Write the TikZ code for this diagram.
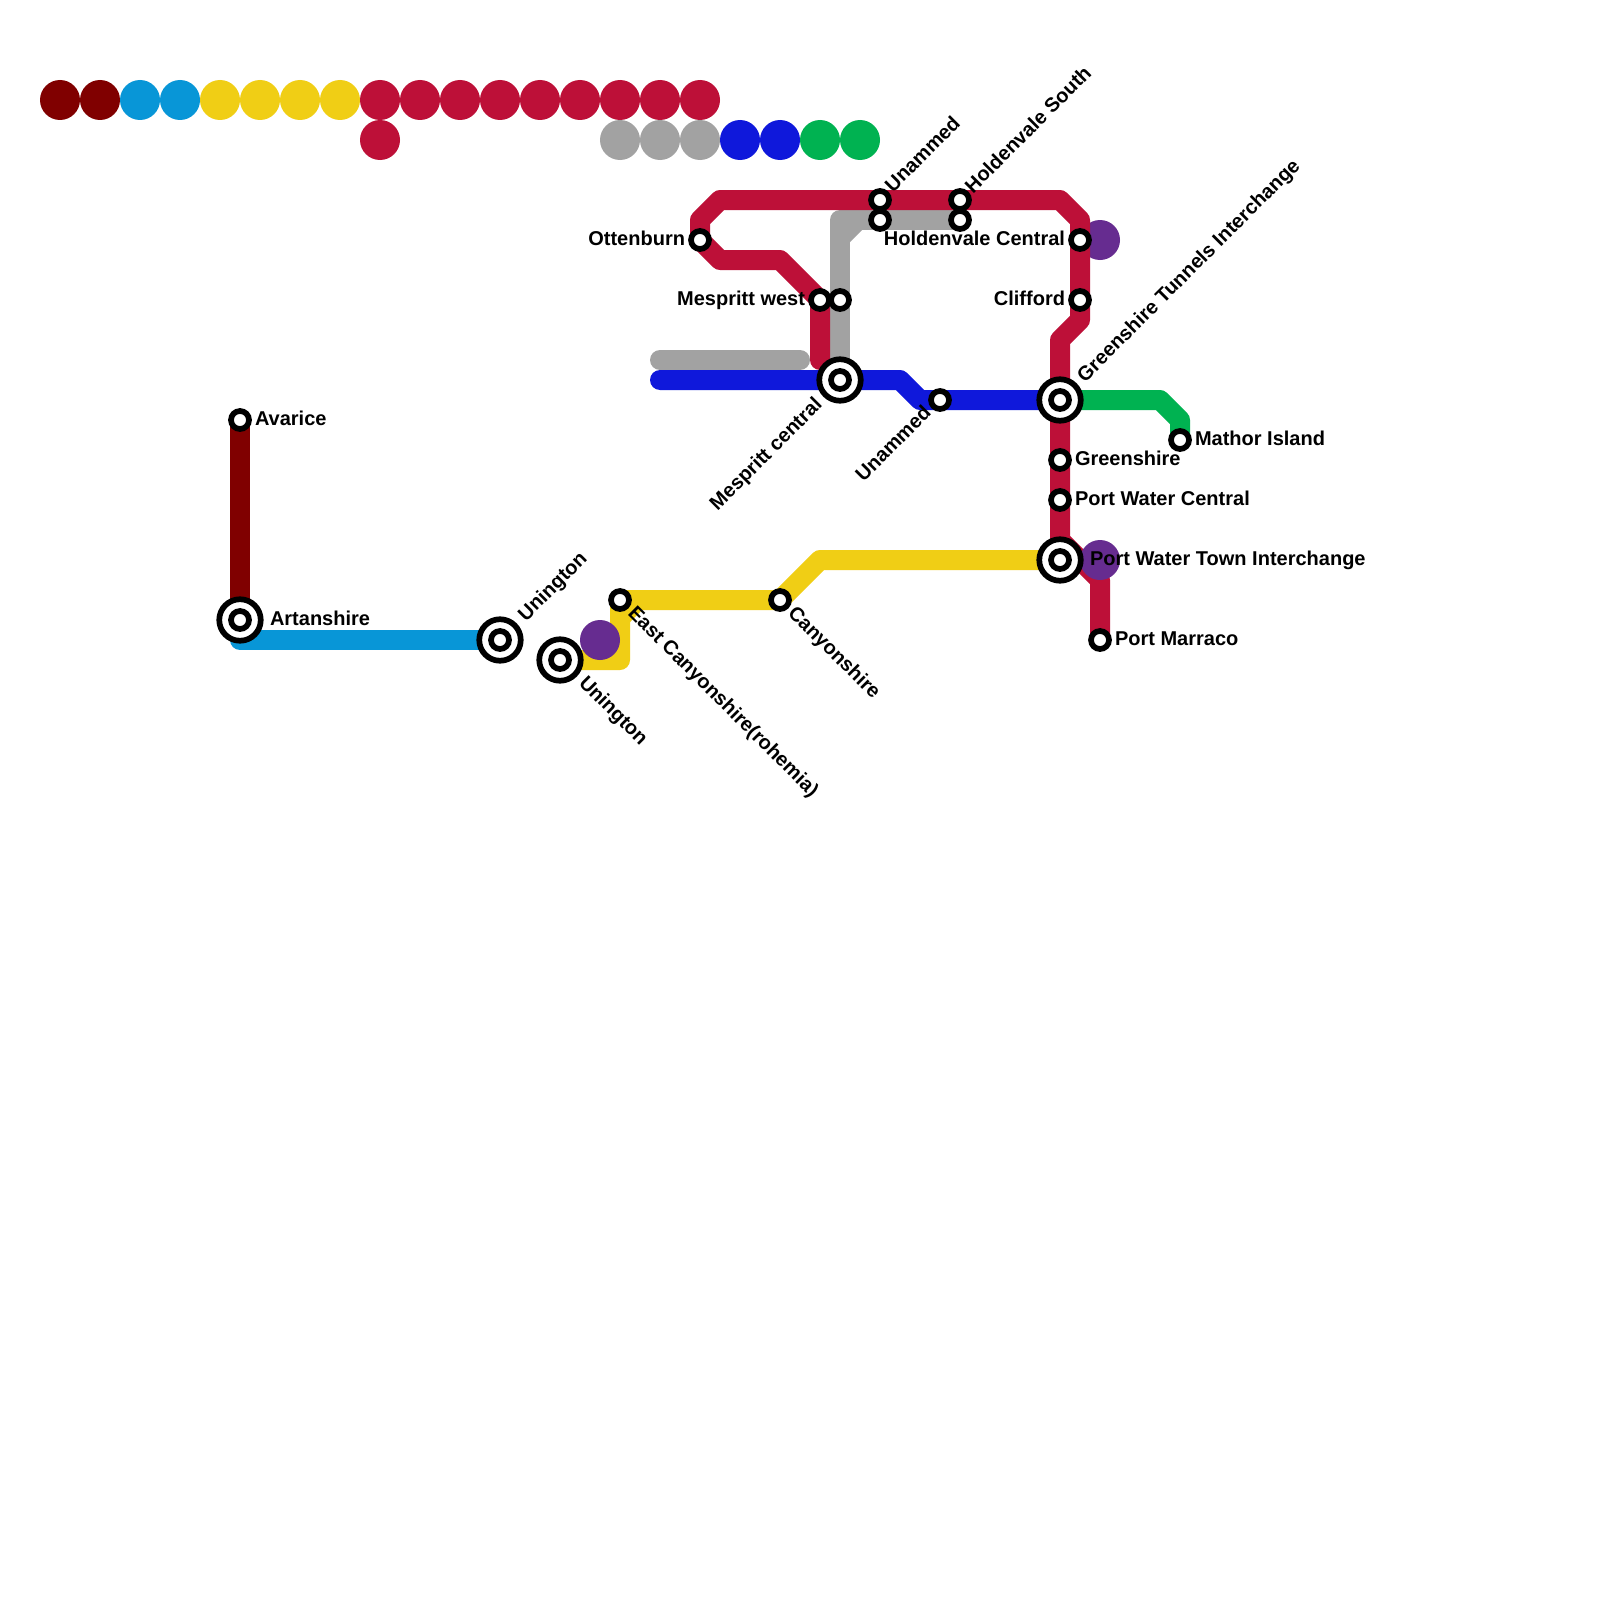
\documentclass[tikz,border=0pt]{standalone}
\usepackage{fontspec}
\setmainfont{Liberation Sans}
\definecolor{cDark}{HTML}{800000}
\definecolor{cSky}{HTML}{0896D7}
\definecolor{cYellow}{HTML}{F0CE15}
\definecolor{cRed}{HTML}{BD1038}
\definecolor{cGray}{HTML}{A2A2A2}
\definecolor{cBlue}{HTML}{0F18DB}
\definecolor{cGreen}{HTML}{00B251}
\definecolor{cPurple}{HTML}{662C90}
\pgfdeclarelayer{lines}
\pgfsetlayers{lines,main}
\tikzset{
  metro/.style={line width=20pt,line cap=round,line join=round},
  dot/.style={circle,minimum size=40pt,inner sep=0pt,outer sep=0pt},
  stn/.style={circle,draw=black,fill=white,line width=5.7pt,minimum size=18pt,inner sep=0pt,outer sep=0pt},
  ixn/.style={circle,draw=black,fill=white,line width=5.7pt,minimum size=41.5pt,inner sep=0pt,outer sep=0pt},
  lbl/.style={font=\fontsize{20}{22}\selectfont\bfseries,text=black,inner sep=0pt,outer sep=0pt},
  lw/.style={lbl,anchor=base west},
  le/.style={lbl,anchor=base east},
}
\begin{document}
\begin{tikzpicture}[x=1pt,y=-1pt]
\useasboundingbox (0,0) rectangle (1600,1600);
% legend dots
\foreach \n/\x/\c in {a1/60/cDark,a2/100/cDark,a3/140/cSky,a4/180/cSky,a5/220/cYellow,a6/260/cYellow,a7/300/cYellow,a8/340/cYellow,a9/380/cRed,a10/420/cRed,a11/460/cRed,a12/500/cRed,a13/540/cRed,a14/580/cRed,a15/620/cRed,a16/660/cRed,a17/700/cRed}
  \node[dot,fill=\c] (\n) at (\x,100) {};
\foreach \n/\x/\c in {b1/380/cRed,b2/620/cGray,b3/660/cGray,b4/700/cGray,b5/740/cBlue,b6/780/cBlue,b7/820/cGreen,b8/860/cGreen}
  \node[dot,fill=\c] (\n) at (\x,140) {};
% stations
\node[stn] (avarice) at (240,420) {};
\node[stn] (mathor) at (1180,440) {};
\node[stn] (ottenburn) at (700,240) {};
\node[stn] (mespwest) at (820,300) {};
\node[stn] (mespeast) at (840,300) {};
\node[stn] (unam1) at (880,200) {};
\node[stn] (unam2) at (880,220) {};
\node[stn] (holdS) at (960,200) {};
\node[stn] (holdS2) at (960,220) {};
\node[stn] (holdC) at (1080,240) {};
\node[stn] (clifford) at (1080,300) {};
\node[stn] (unam3) at (940,400) {};
\node[stn] (greenshire) at (1060,460) {};
\node[stn] (pwc) at (1060,500) {};
\node[stn] (eastcan) at (620,600) {};
\node[stn] (canyon) at (780,600) {};
\node[stn] (marraco) at (1100,640) {};
\foreach \n/\p in {artan/{240,620},uni1/{500,640},uni2/{560,660},mespc/{840,380},gti/{1060,400},pwt/{1060,560}}{
  \node[ixn] (\n) at (\p) {};
  \node[stn] (\n i) at (\p) {};
}
% waypoints
\coordinate (r0) at (820,360);
\coordinate (r1) at (780,260);
\coordinate (r2) at (720,260);
\coordinate (r3) at (700,220);
\coordinate (r4) at (720,200);
\coordinate (r5) at (1060,200);
\coordinate (r6) at (1080,220);
\coordinate (r7) at (1080,320);
\coordinate (r8) at (1060,340);
\coordinate (r9) at (1060,540);
\coordinate (r10) at (1100,580);
\coordinate (g1) at (840,220);
\coordinate (g2) at (660,360);
\coordinate (g3) at (800,360);
\coordinate (bl0) at (660,380);
\coordinate (bl1) at (900,380);
\coordinate (bl2) at (920,400);
\coordinate (gr1) at (1160,400);
\coordinate (gr2) at (1180,420);
\coordinate (s1) at (240,640);
\coordinate (y1) at (620,660);
\coordinate (y2) at (620,600);
\coordinate (y3) at (820,560);
\begin{pgfonlayer}{lines}
\fill[white] (0,0) rectangle (1600,1600);
\node[dot,fill=cPurple] (pur1) at (1100,240) {};
\draw[metro,cGray] (mespc.center) -- (g1) -- (holdS2.center);
\fill[cGray] (850,242) -- (850,230) -- (862,230) -- cycle;
\draw[metro,cGray] (g2) -- (g3);
\draw[metro,cRed] (r0) -- (mespwest.center) -- (r1) -- (r2) -- (ottenburn.center) -- (r3) -- (r4) -- (r5) -- (r6) -- (r7) -- (r8) -- (r9) -- (r10) -- (marraco.center);
\draw[metro,cBlue] (bl0) -- (bl1) -- (bl2) -- (gti.center);
\draw[metro,cGreen] (gti.center) -- (gr1) -- (gr2) -- (mathor.center);
\draw[metro,cDark] (avarice.center) -- (artan.center);
\draw[metro,cSky] (artan.center) -- (s1) -- (uni1.center);
\draw[metro,cYellow] (uni2.center) -- (y1) -- (y2) -- (canyon.center) -- (y3) -- (pwt.center);
\fill[cYellow] (630,622) -- (630,610) -- (642,610) -- cycle;
\node[dot,fill=cPurple] (pur2) at (600,640) {};
\node[dot,fill=cPurple] (pur3) at (1100,560) {};
\end{pgfonlayer}
% labels
\node[lw] (t1) at (255,425) {Avarice};
\node[lw] (t2) at (270,625) {Artanshire};
\node[lw] (t3) at (1090,565) {Port Water Town Interchange};
\node[lw] (t4) at (1075,465) {Greenshire};
\node[lw] (t5) at (1075,505) {Port Water Central};
\node[lw] (t6) at (1115,645) {Port Marraco};
\node[lw] (t7) at (1195,445) {Mathor Island};
\node[le] (t8) at (685,245) {Ottenburn};
\node[le] (t9) at (805,305) {Mespritt west};
\node[le] (t10) at (1065,245) {Holdenvale Central};
\node[le] (t11) at (1065,305) {Clifford};
\node[lw,rotate=45] (t12) at (1085,383) {Greenshire Tunnels Interchange};
\node[lw,rotate=45] (t13) at (893,193) {Unammed};
\node[lw,rotate=45] (t14) at (973,194) {Holdenvale South};
\node[lw,rotate=45] (t15) at (526,622) {Unington};
\node[lw,rotate=-45] (t16) at (627,614) {East Canyonshire(rohemia)};
\node[lw,rotate=-45] (t17) at (787,614) {Canyonshire};
\node[lw,rotate=-45] (t18) at (578,684) {Unington};
\node[le,rotate=45] (t19) at (823,406) {Mespritt central};
\node[le,rotate=45] (t20) at (932,414) {Unammed};
\end{tikzpicture}
\end{document}
